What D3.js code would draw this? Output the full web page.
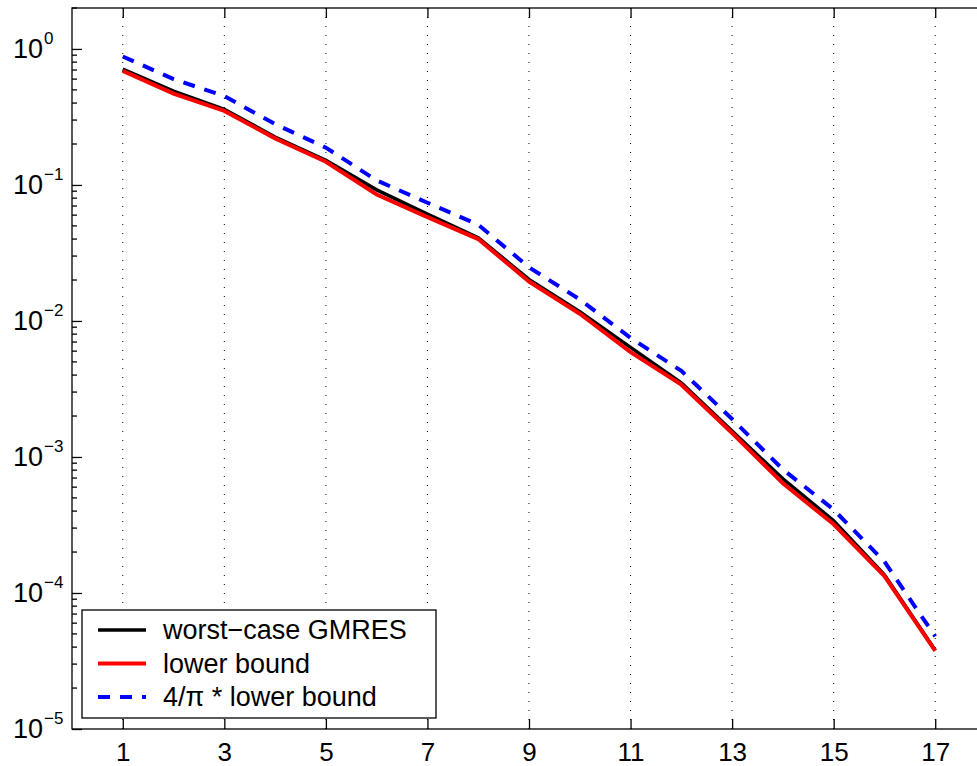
<!DOCTYPE html>
<html>
<head>
<meta charset="utf-8">
<script src="https://cdn.jsdelivr.net/npm/d3@7"></script>
<style>
  body { margin: 0; background: #fff; }
  text { font-family: "Liberation Sans", Arial, sans-serif; fill: #000; }
</style>
</head>
<body>
<div id="chart"></div>
<script>
// iteration numbers
var steps = [1, 2, 3, 4, 5, 6, 7, 8, 9, 10, 11, 12, 13, 14, 15, 16, 17];

// worst-case GMRES residual norm
var worstCase = [0.71, 0.49, 0.36, 0.225, 0.152, 0.092, 0.061, 0.041, 0.0202, 0.0117,
                 0.0064, 0.0035, 0.00155, 0.00069, 0.00034, 0.000136, 0.000038];

// lower bound
var lowerBound = [0.69, 0.47, 0.35, 0.22, 0.148, 0.085, 0.058, 0.040, 0.0195, 0.0113,
                  0.0059, 0.0034, 0.00150, 0.00064, 0.00032, 0.000133, 0.0000375];

// 4/pi * lower bound
var scaledBound = [0.88, 0.60, 0.45, 0.28, 0.188, 0.108, 0.074, 0.051, 0.0248, 0.0144,
                   0.0075, 0.0043, 0.0019, 0.00081, 0.00041, 0.00017, 0.000048];

var xTicks = [1, 3, 5, 7, 9, 11, 13, 15, 17];
var yTicks = [1e-5, 1e-4, 1e-3, 1e-2, 1e-1, 1];
var yExp = ["\u22125", "\u22124", "\u22123", "\u22122", "\u22121", "0"];

var legendNames = ["worst\u2212case GMRES", "lower bound", "4/\u03c0 * lower bound"];

var W = 977, H = 766;
var margin = {top: 8, left: 72, bottom: 729};
var plotRight = 986;

var svg = d3.select("#chart")
  .append("svg")
    .attr("width", W)
    .attr("height", H);

var x = d3.scaleLinear()
  .domain([0, 18])
  .range([margin.left, plotRight]);

var y = d3.scaleLog()
  .domain([1e-5, 2])
  .range([margin.bottom, margin.top]);

// dotted vertical grid
svg.append("g")
  .selectAll("line")
  .data(xTicks)
  .enter().append("line")
    .attr("x1", function(d) { return x(d); })
    .attr("x2", function(d) { return x(d); })
    .attr("y1", margin.top)
    .attr("y2", margin.bottom)
    .attr("stroke", "#000")
    .attr("stroke-width", 1)
    .attr("stroke-dasharray", "1,8");

// frame
svg.append("rect")
  .attr("x", margin.left)
  .attr("y", margin.top)
  .attr("width", plotRight - margin.left)
  .attr("height", margin.bottom - margin.top)
  .attr("fill", "none")
  .attr("stroke", "#000")
  .attr("stroke-width", 1.3);

// x axis bottom
var xAxis = svg.append("g")
  .attr("transform", "translate(0," + margin.bottom + ")")
  .call(d3.axisBottom(x).tickValues(xTicks).tickSizeInner(-10).tickSizeOuter(0).tickPadding(14));
xAxis.select(".domain").remove();
xAxis.selectAll("text").style("font-size", "26px").style("font-family", "Liberation Sans, Arial, sans-serif");
xAxis.selectAll("line").attr("stroke-width", 1.3);

// x axis top (ticks only)
var xTop = svg.append("g")
  .attr("transform", "translate(0," + margin.top + ")")
  .call(d3.axisTop(x).tickValues(xTicks).tickSizeInner(-10).tickSizeOuter(0).tickFormat(""));
xTop.select(".domain").remove();
xTop.selectAll("line").attr("stroke-width", 1.3);

// y axis major ticks
var yAxis = svg.append("g")
  .attr("transform", "translate(" + margin.left + ",0)")
  .call(d3.axisLeft(y).tickValues(yTicks).tickSizeInner(-10).tickSizeOuter(0).tickFormat(""));
yAxis.select(".domain").remove();
yAxis.selectAll("line").attr("stroke-width", 1.3);

// y minor ticks
var minor = [];
yTicks.forEach(function(t) {
  for (var k = 2; k <= 9; k++) {
    if (t * k <= 2) minor.push(t * k);
  }
});
svg.append("g")
  .selectAll("line")
  .data(minor)
  .enter().append("line")
    .attr("x1", margin.left)
    .attr("x2", margin.left + 5)
    .attr("y1", function(d) { return y(d); })
    .attr("y2", function(d) { return y(d); })
    .attr("stroke", "#000")
    .attr("stroke-width", 1.3);

// y tick labels 10^n
var yLab = svg.append("g")
  .selectAll("text")
  .data(yTicks)
  .enter().append("text")
    .attr("x", 13)
    .attr("y", function(d) { return y(d) + 9; });
yLab.append("tspan")
  .style("font-size", "27px")
  .text("10");
yLab.append("tspan")
  .attr("dy", -14)
  .attr("dx", 1)
  .style("font-size", "17px")
  .text(function(d, i) { return yExp[i]; });

// lines
var line = d3.line()
  .x(function(d, i) { return x(steps[i]); })
  .y(function(d) { return y(d); });

var series = [
  {vals: worstCase, color: "#000", width: 3.5, dash: null},
  {vals: lowerBound, color: "#ff0000", width: 4, dash: null},
  {vals: scaledBound, color: "#0000ff", width: 4, dash: "12,10"}
];

svg.append("g")
  .selectAll("path")
  .data(series)
  .enter().append("path")
    .attr("d", function(d) { return line(d.vals); })
    .attr("fill", "none")
    .attr("stroke", function(d) { return d.color; })
    .attr("stroke-width", function(d) { return d.width; })
    .attr("stroke-dasharray", function(d) { return d.dash; });

// legend
var leg = svg.append("g");
leg.append("rect")
  .attr("x", 82)
  .attr("y", 610)
  .attr("width", 354)
  .attr("height", 108)
  .attr("fill", "#fff")
  .attr("stroke", "#000")
  .attr("stroke-width", 1.3);

var legRows = leg.selectAll("g.row")
  .data(series)
  .enter().append("g")
    .attr("class", "row")
    .attr("transform", function(d, i) { return "translate(0," + (630 + i * 33.5) + ")"; });

legRows.append("line")
  .attr("x1", 98)
  .attr("x2", 146)
  .attr("stroke", function(d) { return d.color; })
  .attr("stroke-width", function(d) { return d.width; })
  .attr("stroke-dasharray", function(d) { return d.dash; });

legRows.append("text")
  .attr("x", 163)
  .attr("y", 9)
  .style("font-size", "27px")
  .text(function(d, i) { return legendNames[i]; });
</script>
</body>
</html>
